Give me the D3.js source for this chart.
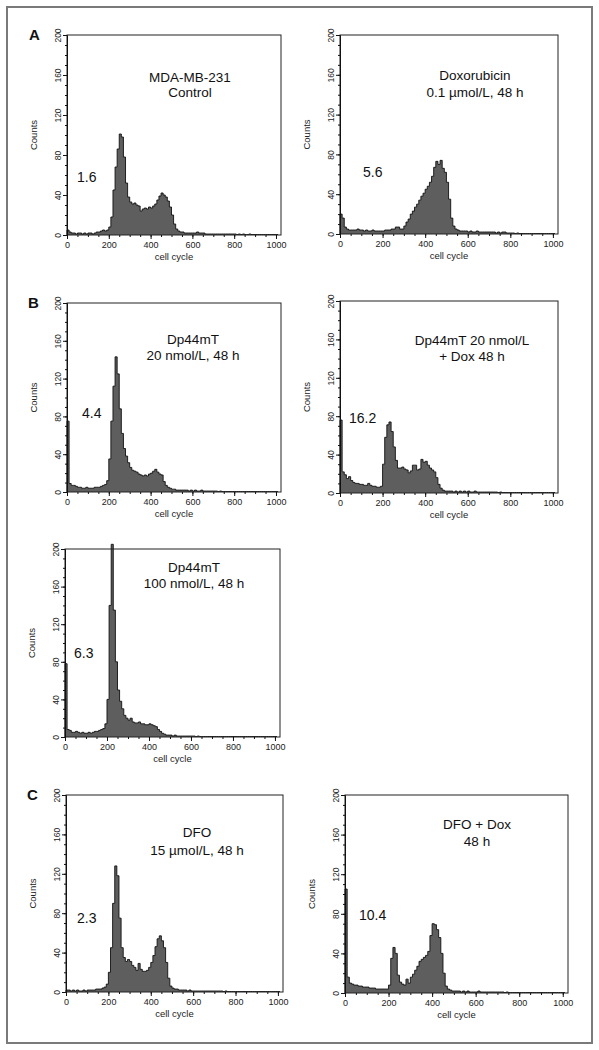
<!DOCTYPE html>
<html><head><meta charset="utf-8">
<script src="https://cdn.jsdelivr.net/npm/d3@7/dist/d3.min.js"></script>
<style>body{margin:0;background:#fff}svg{display:block}</style>
</head><body>
<svg id="c" width="599" height="1050"></svg>
<script>
// ---------- data ----------
const channelStep = 10;            // histogram bins: 0,10,20,...,1000 (cell-cycle channel)
const yTickValues = [0, 40, 80, 120, 160, 200];
const xTickValues = [0, 200, 400, 600, 800, 1000];
const panelLetters = ["A", "B", "C"];
const titles = [
  ["MDA-MB-231", "Control"],
  ["Doxorubicin", "0.1 \u00b5mol/L, 48 h"],
  ["Dp44mT", "20 nmol/L, 48 h"],
  ["Dp44mT 20 nmol/L", "+ Dox 48 h"],
  ["Dp44mT", "100 nmol/L, 48 h"],
  ["DFO", "15 \u00b5mol/L, 48 h"],
  ["DFO + Dox", "48 h"]
];
const subG1 = ["1.6", "5.6", "4.4", "16.2", "6.3", "2.3", "10.4"];

const countsControl = [
  5,3,2,2,1,2,2,1,2,1,
  2,2,1,2,3,3,4,5,4,5,
  8,18,45,68,86,101,98,78,52,38,
  33,31,32,30,29,24,26,27,26,28,
  27,29,31,35,39,42,40,38,34,28,
  20,11,6,4,3,3,2,2,2,2,
  2,2,3,2,2,2,1,1,1,1,
  1,1,1,1,1,1,1,1,1,1,
  1,0.5,1,0.5,1,0.5,0.5,1,0.5,0.5,
  0.5,0.5,0.5,0.5,0.5,0.5,0.5,0.5,0.5,0.5,
  0.5];
const countsDox = [
  20,16,7,5,4,4,4,4,5,4,
  4,3,4,3,3,4,3,3,3,3,
  3,4,4,4,5,5,7,7,5,5,
  8,12,15,20,23,27,30,34,38,41,
  45,48,52,58,67,73,70,74,66,62,
  52,35,16,8,5,4,3,3,3,3,
  2,3,2,2,3,2,2,2,2,2,
  2,2,2,1,2,1,2,2,1,1,
  1,1,0.5,1,0.5,0.5,0.5,0.5,0.5,0.5,
  0.5,0.5,0.5,0.5,0.5,0.5,0.5,0.5,0.5,0.5,
  0.5];
const countsDp20 = [
  75,9,7,7,6,5,5,4,4,5,
  4,4,4,5,5,5,6,7,8,12,
  35,75,112,143,125,88,62,46,38,31,
  26,23,22,21,19,18,17,18,17,19,
  20,22,24,21,19,18,11,7,5,4,
  3,3,2,2,2,2,2,2,1,2,
  1,2,1,1,2,1,1,1,1,1,
  1,1,0.5,1,0.5,0.5,0.5,0.5,0.5,0.5,
  0.5,0.5,0.5,0.5,0.5,0.5,0.5,0.5,0.5,0.5,
  0.5,0.5,0.5,0.5,0.5,0.5,0.5,0.5,0.5,0.5,
  0.5];
const countsDp20Dox = [
  76,22,19,15,17,13,11,10,10,9,
  9,8,8,10,8,7,7,6,6,7,
  30,58,71,74,64,48,34,26,26,27,
  25,24,21,23,29,29,24,25,35,32,
  33,29,26,24,22,16,9,5,3,2,
  2,2,2,1,2,1,2,1,2,1,
  2,1,1,2,1,1,1,1,1,1,
  1,1,1,1,0.5,1,0.5,0.5,0.5,0.5,
  0.5,0.5,0.5,0.5,0.5,0.5,0.5,0.5,0.5,0.5,
  0.5,0.5,0.5,0.5,0.5,0.5,0.5,0.5,0.5,0.5,
  0.5];
const countsDp100 = [
  78,8,7,5,5,6,5,4,5,4,
  4,5,4,5,6,6,7,8,9,14,
  40,140,205,135,80,50,38,30,23,20,
  18,20,16,15,15,16,14,14,13,13,
  14,13,12,11,8,6,4,3,2,2,
  2,1,2,1,1,1,1,1,1,1,
  1,1,0.5,1,0.5,0.5,0.5,0.5,0.5,0.5,
  0.5,0.5,0.5,0.5,0.5,0.5,0.5,0.5,0.5,0.5,
  0.5,0.5,0.5,0.5,0.5,0.5,0.5,0.5,0.5,0.5,
  0.5,0.5,0.5,0.5,0.5,0.5,0.5,0.5,0.5,0.5,
  0.5];
const countsDFO = [
  2,2,1,2,1,2,1,1,2,1,
  2,2,2,2,3,3,3,4,5,8,
  20,45,90,128,118,75,45,35,31,33,
  31,27,25,22,29,23,21,21,22,25,
  30,37,46,54,57,52,45,30,14,6,
  4,3,3,2,2,2,2,1,2,1,
  1,1,1,1,1,1,1,1,1,1,
  1,1,1,1,0.5,1,0.5,0.5,0.5,0.5,
  0.5,0.5,0.5,0.5,0.5,0.5,0.5,0.5,0.5,0.5,
  0.5,0.5,0.5,0.5,0.5,0.5,0.5,0.5,0.5,0.5,
  0.5];
const countsDFODox = [
  105,16,10,9,8,8,7,7,6,6,
  6,5,5,5,4,4,4,4,4,4,
  8,35,46,40,18,11,9,8,14,10,
  16,19,23,27,32,34,36,38,42,58,
  70,69,64,56,40,20,7,4,3,2,
  2,2,2,1,2,1,2,1,1,1,
  1,2,1,1,1,1,1,1,1,1,
  1,1,1,0.5,1,0.5,0.5,0.5,0.5,0.5,
  0.5,0.5,0.5,0.5,0.5,0.5,0.5,0.5,0.5,0.5,
  0.5,0.5,0.5,0.5,0.5,0.5,0.5,0.5,0.5,0.5,
  0.5];
const series = [countsControl, countsDox, countsDp20, countsDp20Dox, countsDp100, countsDFO, countsDFODox];

// ---------- layout (pixels) ----------
const boxes = [ // left, right, top, bottom
  [67, 281, 35, 235],
  [340, 558, 35, 234],
  [67, 281, 303, 492],
  [340, 558, 301, 493],
  [65, 280, 549, 737],
  [66, 283, 795, 992],
  [345, 568, 795, 993]
];
const titlePos = [ // centre x, baseline line1, baseline line2
  [190, 82, 97], [475, 80, 97], [193, 344, 360], [472, 345, 361],
  [194, 572, 588], [197, 837, 855], [477, 829, 846]
];
const pctPos = [[77, 182], [363, 177], [82, 418], [349, 423], [74, 658], [77, 923], [359, 920]];
const letterPos = [[29, 40, 0], [28, 308, 2], [27, 800, 5]];

const svg = d3.select("#c");
const FONT = "'Liberation Sans', Arial, Helvetica, sans-serif";

svg.append("rect").attr("x", 7).attr("y", 7).attr("width", 585).attr("height", 1036)
  .attr("fill", "none").attr("stroke", "#7a7a7a").attr("stroke-width", 2);

letterPos.forEach(([x, y], i) => {
  svg.append("text").attr("x", x).attr("y", y).text(panelLetters[i])
    .attr("font-family", FONT).attr("font-weight", "bold").attr("font-size", 15).attr("fill", "#111");
});

series.forEach((vals, p) => {
  const [L, R, T, B] = boxes[p];
  const x = d3.scaleLinear().domain([0, 1024]).range([L, R]);
  const y = d3.scaleLinear().domain([0, 200]).range([B, T]);
  const g = svg.append("g");

  const pts = vals.map((v, i) => ({c: i * channelStep, v}));
  pts.push({c: vals.length * channelStep, v: vals[vals.length - 1]});

  const area = d3.area().curve(d3.curveStepAfter).x(d => x(d.c)).y0(y(0)).y1(d => y(d.v));
  g.append("path").datum(pts).attr("d", area).attr("fill", "#5e5e5e").attr("stroke", "none");
  const line = d3.line().curve(d3.curveStepAfter).x(d => x(d.c)).y(d => y(d.v));
  g.append("path").datum([{c: 0, v: 0}, ...pts]).attr("d", line)
    .attr("fill", "none").attr("stroke", "#111").attr("stroke-width", 0.9);

  // box
  g.append("rect").attr("x", L).attr("y", T).attr("width", R - L).attr("height", B - T)
    .attr("fill", "none").attr("stroke", "#222").attr("stroke-width", 1);

  // y axis
  const yAx = g.append("g").attr("transform", `translate(${L},0)`)
    .call(d3.axisLeft(y).tickValues(yTickValues).tickSize(4).tickFormat(d3.format("d")));
  yAx.select(".domain").attr("stroke", "#111");
  yAx.selectAll(".tick line").attr("stroke", "#111");
  yAx.selectAll(".tick text").attr("transform", function(d){ return `rotate(-90)`; })
    .attr("x", 0).attr("y", 0).attr("dy", 0)
    .each(function(d){
      d3.select(this).attr("transform", `translate(-6,0) rotate(-90)`).attr("text-anchor", "middle");
    })
    .attr("font-family", FONT).attr("font-size", 8.5).attr("fill", "#222");
  // minor y ticks
  g.append("g").attr("transform", `translate(${L},0)`)
    .call(d3.axisLeft(y).ticks(20).tickSize(2).tickFormat(""))
    .call(s => s.select(".domain").remove())
    .selectAll("line").attr("stroke", "#111");

  // x axis
  const xAx = g.append("g").attr("transform", `translate(0,${B})`)
    .call(d3.axisBottom(x).tickValues(xTickValues).tickSize(4).tickFormat(d3.format("d")));
  xAx.select(".domain").remove();
  xAx.selectAll(".tick line").attr("stroke", "#111");
  xAx.selectAll(".tick text").attr("y", 7).attr("font-family", FONT).attr("font-size", 9).attr("fill", "#222");
  g.append("g").attr("transform", `translate(0,${B})`)
    .call(d3.axisBottom(x).tickValues(d3.range(0, 1001, 50)).tickSize(2).tickFormat(""))
    .call(s => s.select(".domain").remove())
    .selectAll("line").attr("stroke", "#111");

  g.append("text").attr("x", (L + R) / 2).attr("y", B + 25).attr("text-anchor", "middle")
    .attr("font-family", FONT).attr("font-size", 9.5).attr("fill", "#222").text("cell cycle");
  g.append("text").attr("transform", `translate(${L - 30},${(T + B) / 2}) rotate(-90)`)
    .attr("text-anchor", "middle").attr("font-family", FONT).attr("font-size", 9.5)
    .attr("fill", "#222").text("Counts");

  const [cx, y1, y2] = titlePos[p];
  g.append("text").attr("x", cx).attr("y", y1).attr("text-anchor", "middle")
    .attr("font-family", FONT).attr("font-size", 13.5).attr("fill", "#111").text(titles[p][0]);
  g.append("text").attr("x", cx).attr("y", y2).attr("text-anchor", "middle")
    .attr("font-family", FONT).attr("font-size", 13.5).attr("fill", "#111").text(titles[p][1]);
  g.append("text").attr("x", pctPos[p][0]).attr("y", pctPos[p][1])
    .attr("font-family", FONT).attr("font-size", 14).attr("fill", "#111").text(subG1[p]);
});
</script>
</body></html>
